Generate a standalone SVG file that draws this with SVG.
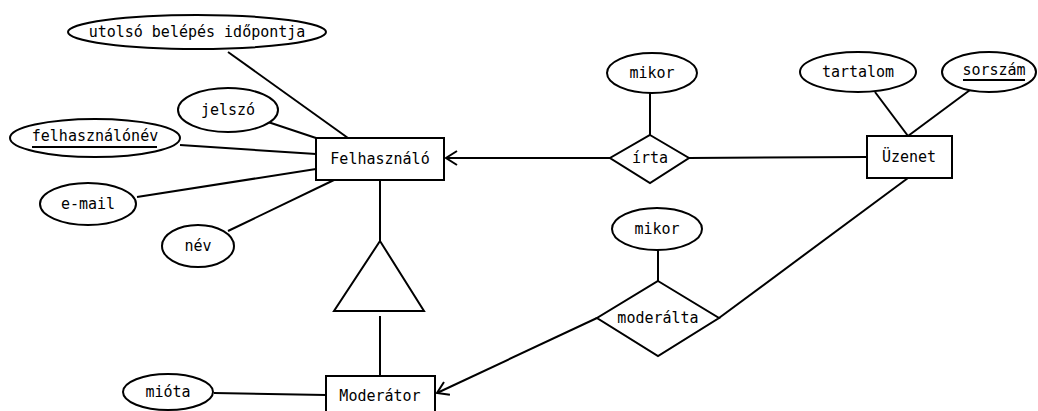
<svg xmlns="http://www.w3.org/2000/svg" width="1038" height="411" viewBox="0 0 1038 411">
<style>
.s{fill:#fff;stroke:#000;stroke-width:2}
.c{fill:none;stroke:#000;stroke-width:2}
text{font-family:"DejaVu Sans Mono","Liberation Mono",monospace;font-size:15px;fill:#000;text-anchor:middle;dominant-baseline:central}
</style>
<defs>
<marker id="arr" markerUnits="userSpaceOnUse" markerWidth="14" markerHeight="16" refX="12" refY="8" orient="auto" viewBox="0 0 14 16">
<path d="M1,1 L12,8 L1,15" fill="none" stroke="#000" stroke-width="2"/>
</marker>
</defs>
<rect width="1038" height="411" fill="#fff"/>
<g id="connectors">
<line class="c" x1="228" y1="52" x2="348" y2="138"/>
<line class="c" x1="268" y1="122" x2="316" y2="138"/>
<line class="c" x1="180" y1="145" x2="316" y2="154"/>
<line class="c" x1="137" y1="197" x2="316" y2="169"/>
<line class="c" x1="228" y1="231" x2="334" y2="180"/>
<line class="c" x1="380" y1="180" x2="380" y2="241"/>
<line class="c" x1="380" y1="316" x2="380" y2="376"/>
<line class="c" x1="214" y1="393" x2="326" y2="395"/>
<line class="c" x1="650" y1="93" x2="650" y2="135"/>
<line class="c" x1="610" y1="158" x2="446" y2="158" marker-end="url(#arr)"/>
<line class="c" x1="689" y1="158" x2="867" y2="157"/>
<line class="c" x1="875" y1="92" x2="908" y2="136"/>
<line class="c" x1="970" y1="90" x2="908" y2="136"/>
<line class="c" x1="908" y1="178" x2="719" y2="318"/>
<line class="c" x1="658" y1="250" x2="658" y2="281"/>
<line class="c" x1="597" y1="318" x2="437" y2="393" marker-end="url(#arr)"/>
</g>
<g id="attr-utolso"><ellipse class="s" cx="197" cy="32" rx="129" ry="17"/><text x="197" y="32">utolsó belépés időpontja</text></g>
<g id="attr-jelszo"><ellipse class="s" cx="228" cy="110" rx="50" ry="22"/><text x="228" y="110">jelszó</text></g>
<g id="attr-felhasznalonev"><ellipse class="s" cx="95" cy="138" rx="85" ry="19"/><text x="95" y="136">felhasználónév</text><line class="c" x1="32" y1="147" x2="157" y2="147"/></g>
<g id="attr-email"><ellipse class="s" cx="88" cy="204" rx="48" ry="21"/><text x="88" y="204">e-mail</text></g>
<g id="attr-nev"><ellipse class="s" cx="198" cy="246" rx="36" ry="21"/><text x="198" y="246">név</text></g>
<g id="felhasznalo"><rect class="s" x="316" y="138" width="128" height="42"/><text x="380" y="159">Felhasználó</text></g>
<g id="isa"><polygon class="s" points="380,241 334,311 424,311"/></g>
<g id="moderator"><rect class="s" x="326" y="376" width="109" height="42"/><text x="380" y="396">Moderátor</text></g>
<g id="attr-miota"><ellipse class="s" cx="168" cy="392" rx="45" ry="18"/><text x="168" y="392">mióta</text></g>
<g id="attr-mikor1"><ellipse class="s" cx="652" cy="73" rx="45" ry="20"/><text x="652" y="73">mikor</text></g>
<g id="irta"><polygon class="s" points="650,135 689,158 650,183 610,158"/><text x="650" y="158">írta</text></g>
<g id="attr-tartalom"><ellipse class="s" cx="858" cy="72" rx="58" ry="20"/><text x="858" y="72">tartalom</text></g>
<g id="attr-sorszam"><ellipse class="s" cx="989" cy="72" rx="47" ry="20"/><text x="994" y="70">sorszám</text><line class="c" x1="963" y1="80" x2="1025" y2="80"/></g>
<g id="uzenet"><rect class="s" x="867" y="136" width="85" height="42"/><text x="909" y="157">Üzenet</text></g>
<g id="attr-mikor2"><ellipse class="s" cx="657" cy="229" rx="45" ry="21"/><text x="657" y="229">mikor</text></g>
<g id="moderalta"><polygon class="s" points="658,281 719,318 658,356 597,318"/><text x="658" y="318">moderálta</text></g>
</svg>
